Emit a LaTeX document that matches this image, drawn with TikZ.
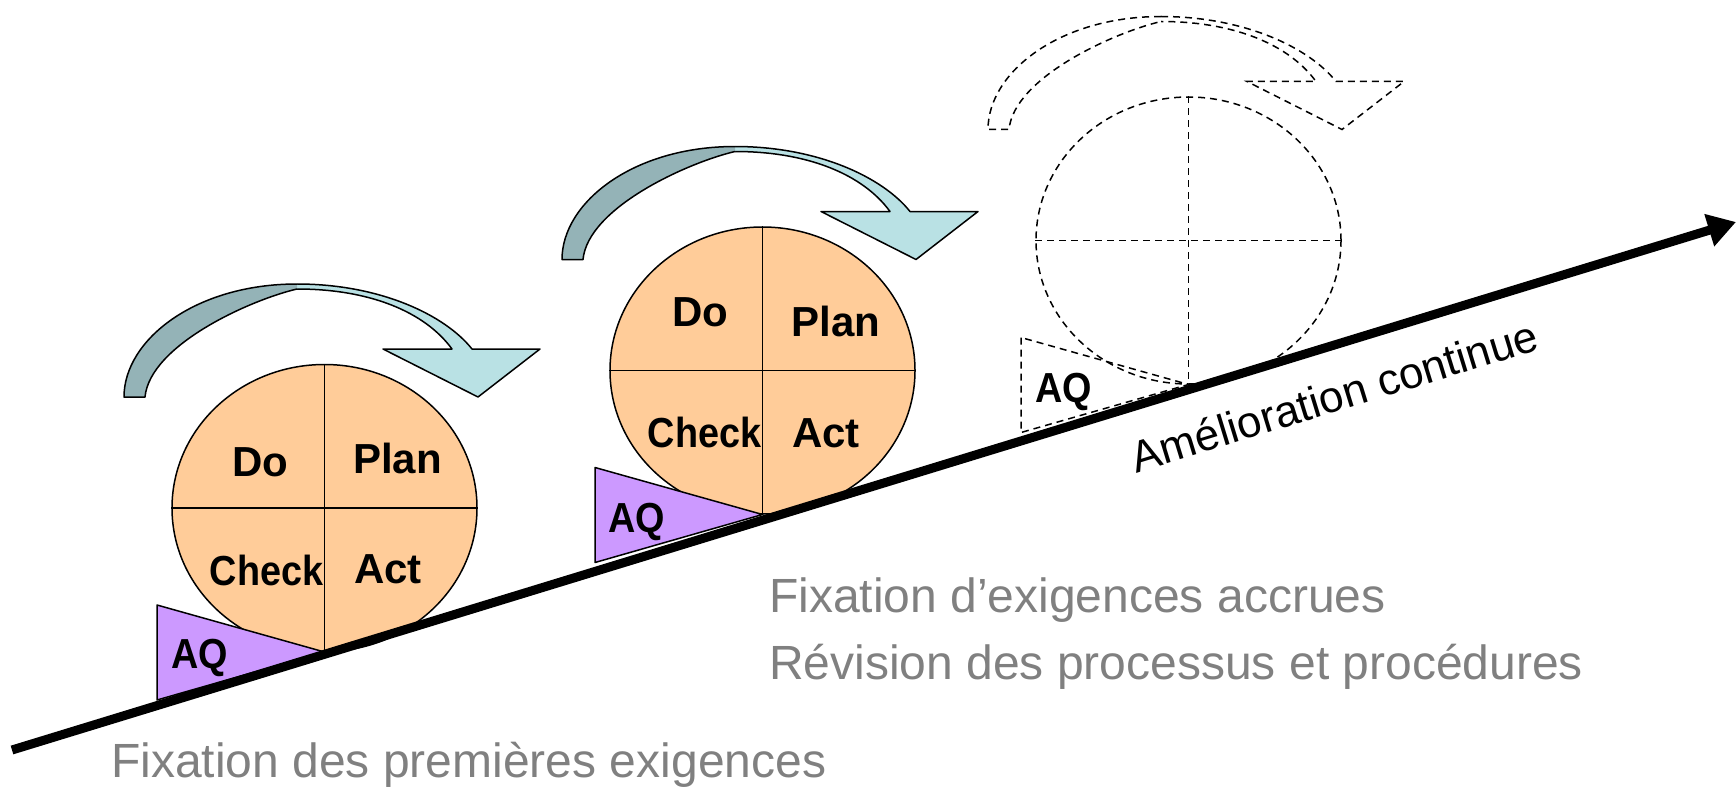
\documentclass[tikz,border=0pt]{standalone}
\usepackage{fontspec}
\setmainfont{Liberation Sans}
\usetikzlibrary{arrows.meta,shapes.geometric}
\definecolor{orangefill}{HTML}{FFCC99}
\definecolor{purplefill}{HTML}{CC99FF}
\definecolor{darkteal}{HTML}{94B3B7}
\definecolor{lightteal}{HTML}{B9E1E4}
\definecolor{graytext}{HTML}{808080}
% closed paths for filling
\newcommand\darkband{(-200.5,-111) .. controls (-200.5,-168) and (-129.5,-224) .. (-27.5,-224) -- (-27.5,-219) .. controls (-74.5,-208) and (-174.5,-163) .. (-179.5,-111) -- cycle}
\newcommand\lightband{(-27.5,-224) .. controls (55.5,-224) and (120.5,-193) .. (147.5,-159) -- (215.5,-159) -- (153.5,-111) -- (58.5,-159) -- (127.5,-159) .. controls (100.5,-196) and (45.5,-219) .. (-27.5,-219) -- cycle}
% open paths for stroking (no seam at the top)
\newcommand\darkedge{(-27.5,-224) .. controls (-129.5,-224) and (-200.5,-168) .. (-200.5,-111) -- (-179.5,-111) .. controls (-174.5,-163) and (-74.5,-208) .. (-27.5,-219)}
\newcommand\lightedge{(-27.5,-224) .. controls (55.5,-224) and (120.5,-193) .. (147.5,-159) -- (215.5,-159) -- (153.5,-111) -- (58.5,-159) -- (127.5,-159) .. controls (100.5,-196) and (45.5,-219) .. (-27.5,-219)}
\begin{document}
\begin{tikzpicture}[x=1pt,y=-1pt,
  outl/.style={draw=black, line width=1.5pt, line join=round},
  dashedoutl/.style={draw=black, line width=1.5pt, dash pattern=on 7pt off 5pt},
  cyc/.style={ellipse, minimum width=305pt, minimum height=287pt, inner sep=0pt},
  qlbl/.style={font=\fontsize{42}{48}\selectfont\bfseries, inner sep=0pt, anchor=base},
  gtext/.style={font=\fontsize{48}{56}\selectfont, text=graytext, inner sep=0pt, anchor=base west}
]
\path[use as bounding box] (0,0) rectangle (1736,789);

% ---------- unit 1 ----------
\begin{scope}[shift={(324.5,508)}]
  \fill[lightteal] \lightband; \draw[outl] \lightedge;
  \fill[darkteal] \darkband; \draw[outl] \darkedge;
  \node[cyc, outl, fill=orangefill] (c1) at (0,0) {};
  \draw[outl] (c1.north) -- (c1.south);
  \draw[outl] (c1.west) -- (c1.east);
  \draw[outl, fill=purplefill] (-167.5,97) -- (-167.5,192) -- (0,144) -- cycle;
\end{scope}
\node[qlbl] (do1) at (260.5,476.7) {Do};
\node[qlbl] (plan1) at (397.5,473) {Plan};
\node[qlbl] (check1) at (266.5,585) {\scalebox{0.9}[1]{Check}};
\node[qlbl] (act1) at (388,583) {Act};
\node[qlbl] (aq1) at (200,668) {\scalebox{0.9}[1]{AQ}};

% ---------- unit 2 ----------
\begin{scope}[shift={(762.5,370.5)}]
  \fill[lightteal] \lightband; \draw[outl] \lightedge;
  \fill[darkteal] \darkband; \draw[outl] \darkedge;
  \node[cyc, outl, fill=orangefill] (c2) at (0,0) {};
  \draw[outl] (c2.north) -- (c2.south);
  \draw[outl] (c2.west) -- (c2.east);
  \draw[outl, fill=purplefill] (-167.5,97) -- (-167.5,192) -- (0,144) -- cycle;
\end{scope}
\node[qlbl] (do2) at (700,326) {Do};
\node[qlbl] (plan2) at (836,336) {Plan};
\node[qlbl] (check2) at (704.5,447) {\scalebox{0.9}[1]{Check}};
\node[qlbl] (act2) at (826,447) {Act};
\node[qlbl] (aq2) at (637,532) {\scalebox{0.9}[1]{AQ}};

% ---------- unit 3 (dashed) ----------
\begin{scope}[shift={(1188.5,240.5)}]
  \draw[dashedoutl] \lightedge;
  \draw[dashedoutl] \darkedge;
  \node[cyc, dashedoutl] (c3) at (0,0) {};
  \draw[dashedoutl] (c3.north) -- (c3.south);
  \draw[dashedoutl] (c3.west) -- (c3.east);
  \draw[dashedoutl] (-167.5,97) -- (-167.5,192) -- (0,144) -- cycle;
\end{scope}
\node[qlbl] (aq3) at (1064,402) {\scalebox{0.9}[1]{AQ}};

% ---------- main slope ----------
\coordinate (lstart) at (12,750);
\coordinate (lend) at (1736,222);
\draw[line width=9pt, -{Triangle[length=28pt,width=32pt]}] (lstart) -- (lend);

\node[font=\fontsize{44}{50}\selectfont, inner sep=0pt, anchor=base, rotate=17.06] (amel) at (1339,411) {Amélioration continue};

\node[gtext] (t1) at (111,777) {Fixation des premières exigences};
\node[gtext] (t2) at (769,612) {Fixation d’exigences accrues};
\node[gtext] (t3) at (769,679) {Révision des processus et procédures};
\end{tikzpicture}
\end{document}
